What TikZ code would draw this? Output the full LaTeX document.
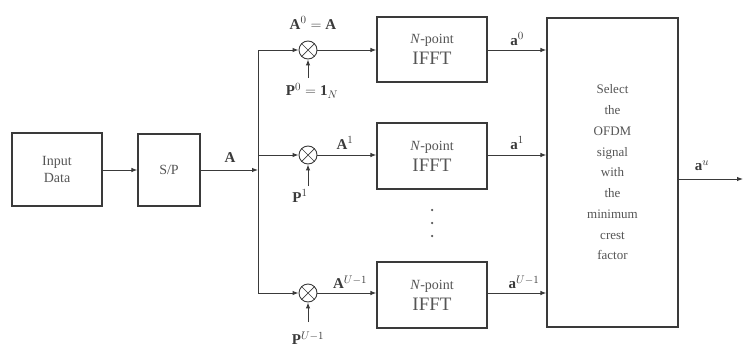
\documentclass[tikz,border=0pt]{standalone}
\usepackage{fontspec}
\setmainfont{Liberation Serif}
\usetikzlibrary{arrows.meta}
\definecolor{ln}{HTML}{3A3A3A}
\definecolor{tx}{HTML}{555555}
\tikzset{
  blk/.style={draw=ln, line width=1.1pt, fill=white, text=tx, align=center, inner sep=0pt},
  fftblk/.style={blk, minimum width=110pt, font=\fontsize{14}{21}\selectfont},
  mul/.style={draw=ln, line width=0.9pt, circle, minimum size=18pt, inner sep=0pt},
  conn/.style={draw=ln, line width=1pt},
  arr/.style={conn, -{Latex[length=6pt,width=4.5pt]}},
  lbl/.style={text=ln, inner sep=0pt, font=\fontsize{15}{17}\selectfont},
  dot/.style={circle, fill=tx, inner sep=0pt, minimum size=2.5pt}
}
\newcommand{\fftlabel}{\textit{N}-point\\{\fontsize{19}{21}\selectfont IFFT}}
\begin{document}
\begin{tikzpicture}[x=1pt,y=-1pt]
\useasboundingbox (0,0) rectangle (743,348);
% blocks
\node[blk, minimum width=90pt, minimum height=73pt, font=\fontsize{14}{17}\selectfont] (in) at (57,169.5) {Input\\Data};
\node[blk, minimum width=62pt, minimum height=72pt, font=\fontsize{14}{17}\selectfont] (sp) at (169,170) {S/P};
\node[fftblk, minimum height=65pt] (f0) at (432,49.5) {\fftlabel};
\node[fftblk, minimum height=66pt] (f1) at (432,156) {\fftlabel};
\node[fftblk, minimum height=66pt] (f2) at (432,295) {\fftlabel};
\node[blk, minimum width=131pt, minimum height=309pt, font=\fontsize{13}{20.75}\selectfont] (sel) at (612.5,172.5) {Select\\the\\OFDM\\signal\\with\\the\\minimum\\crest\\factor};
% multipliers
\node[mul] (m0) at (308,50) {};
\node[mul] (m1) at (308,155) {};
\node[mul] (m2) at (308,293) {};
\foreach \m in {m0,m1,m2}{
  \draw[ln, line width=0.7pt] (\m.north west) -- (\m.south east) (\m.north east) -- (\m.south west);
}
% bus
\coordinate (bt) at (258,50);
\coordinate (bm) at (258,155);
\coordinate (bb) at (258,293);
\coordinate (bi) at (258,170);
\draw[conn] (bt) -- (bb);
\draw[arr] (in.east |- 0,170) -- (sp.west |- 0,170);
\draw[arr] (sp.east |- bi) -- (bi);
\draw[arr] (bt) -- (m0.west);
\draw[arr] (bm) -- (m1.west);
\draw[arr] (bb) -- (m2.west);
\draw[arr] (m0.east) -- (m0.east -| f0.west);
\draw[arr] (m1.east) -- (m1.east -| f1.west);
\draw[arr] (m2.east) -- (m2.east -| f2.west);
% P inputs
\coordinate (p0) at (308,78);
\coordinate (p1) at (308,186);
\coordinate (p2) at (308,322);
\draw[arr] (p0) -- (m0.south);
\draw[arr] (p1) -- (m1.south);
\draw[arr] (p2) -- (m2.south);
% to select
\draw[arr] (f0.east |- m0) -- (sel.west |- m0);
\draw[arr] (f1.east |- m1) -- (sel.west |- m1);
\draw[arr] (f2.east |- m2) -- (sel.west |- m2);
\coordinate (out) at (743,179);
\draw[arr] (sel.east |- out) -- (out);
% labels
\node[lbl] (la) at (230,158) {$\mathbf{A}$};
\node[lbl] (lA0) at (313,23) {$\mathbf{A}^{0}=\mathbf{A}$};
\node[lbl] (lP0) at (312,91) {$\mathbf{P}^{0}=\mathbf{1}_{N}$};
\node[lbl] (lA1) at (345,143) {$\mathbf{A}^{1}$};
\node[lbl] (lP1) at (300,196) {$\mathbf{P}^{1}$};
\node[lbl] (lA2) at (350,282) {$\mathbf{A}^{U-1}$};
\node[lbl] (lP2) at (308,338) {$\mathbf{P}^{U-1}$};
\node[lbl] (la0) at (517,39) {$\mathbf{a}^{0}$};
\node[lbl] (la1) at (517,143) {$\mathbf{a}^{1}$};
\node[lbl] (la2) at (524,282) {$\mathbf{a}^{U-1}$};
\node[lbl] (lau) at (702,166) {$\mathbf{a}^{u}$};
% dots
\node[dot] (d1) at (432,210) {};
\node[dot] (d2) at (432,223) {};
\node[dot] (d3) at (432,236) {};
\end{tikzpicture}
\end{document}
